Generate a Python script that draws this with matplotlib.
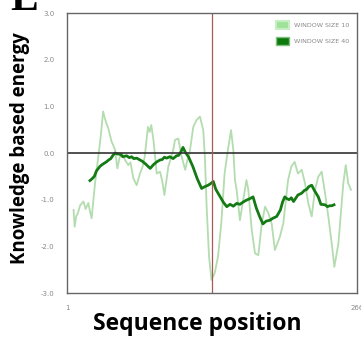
import matplotlib
matplotlib.use('Agg')
import matplotlib.pyplot as plt
from matplotlib.patches import Patch

# window size 10 (light green)
pos_w10 = [7, 8, 9.5, 11, 13, 16, 18, 19, 20.5, 22, 23.5, 26.6, 29.6, 32, 34, 35.5, 37, 38.7,
           41.8, 43, 45, 47, 49, 51, 54, 57, 59, 61.6, 64.7, 67.7, 70, 72, 75, 76.5, 78, 80,
           83, 86, 88, 90, 93.6, 96, 98, 99.7, 102.7, 105.8, 109, 111, 113, 116.4, 119.5,
           122.5, 125.5, 127, 128.6, 130.8, 133, 136, 139, 142, 145, 148, 150.9, 153, 154.5,
           156, 159, 162, 165, 166.7, 169.8, 172.8, 175.8, 179, 182, 185, 188, 191, 195.6,
           198.7, 203, 206, 209, 212, 215.5, 218.5, 221.5, 224.6, 227.6, 230.6, 233.7, 236.8,
           239.8, 242.9, 245.3, 249, 252, 253.5, 255.7, 258, 260.5]
val_w10 = [-1.22, -1.58, -1.35, -1.29, -1.12, -1.04, -1.20, -1.15, -1.07, -1.25, -1.40, -0.65,
           -0.08, 0.40, 0.89, 0.75, 0.64, 0.53, 0.24, 0.18, 0.06, -0.33, -0.10, 0.0, -0.15,
           -0.26, -0.20, -0.54, -0.69, -0.44, -0.30, -0.08, 0.56, 0.45, 0.60, 0.28, -0.44,
           -0.40, -0.60, -0.90, -0.29, -0.10, 0.06, 0.28, 0.31, -0.08, -0.36, -0.15, 0.0,
           0.56, 0.71, 0.78, 0.49, -0.08, -1.15, -2.22, -2.72, -2.57, -2.22, -1.50, -0.44,
           0.06, 0.49, 0.06, -0.58, -0.79, -1.44, -1.01, -0.58, -0.79, -1.65, -2.15, -2.19,
           -1.51, -1.15, -1.29, -1.51, -2.08, -1.79, -1.50, -0.58, -0.29, -0.19, -0.44, -0.36,
           -0.65, -1.08, -1.36, -0.79, -0.51, -0.40, -0.86, -1.36, -1.94, -2.44, -1.94, -1.08,
           -0.65, -0.26, -0.65, -0.79]

# window size 40 (dark green)
pos_w40 = [22, 24, 26, 28, 31, 33, 37, 39, 41, 43, 45, 47, 50, 52, 55.5, 58, 60, 62, 64.7,
           67, 70, 73, 77, 80, 83, 86, 88, 90, 92, 95, 98, 101, 103, 105, 107, 109, 112, 116,
           120, 124, 127, 130, 132, 134.7, 137, 141, 144, 147, 150, 153, 156, 159, 162, 165,
           168, 171, 174, 177, 180, 183, 186.5, 189, 192.6, 196, 198, 200, 202, 204, 206,
           208, 212, 215.5, 218, 220, 222, 224.6, 227, 230.6, 233, 236.8, 239, 241, 243, 245]
val_w40 = [-0.59, -0.55, -0.50, -0.38, -0.29, -0.25, -0.19, -0.15, -0.12, -0.05, 0.0, -0.02,
           -0.03, -0.08, -0.06, -0.10, -0.08, -0.12, -0.11, -0.14, -0.18, -0.24, -0.33, -0.25,
           -0.19, -0.15, -0.14, -0.09, -0.11, -0.08, -0.12, -0.06, -0.05, 0.02, 0.12, 0.02,
           -0.08, -0.29, -0.55, -0.76, -0.72, -0.69, -0.66, -0.61, -0.78, -0.94, -1.06,
           -1.15, -1.10, -1.14, -1.08, -1.10, -1.05, -1.01, -0.98, -0.94, -1.18, -1.36, -1.52,
           -1.46, -1.44, -1.40, -1.36, -1.22, -1.05, -0.94, -0.98, -1.00, -0.96, -1.04, -0.90,
           -0.86, -0.80, -0.78, -0.72, -0.69, -0.80, -0.94, -1.10, -1.11, -1.15, -1.13, -1.13,
           -1.11]

yticks = [-3, -2, -1, 0, 1, 2, 3]
ytick_labels = ['-3.0', '-2.0', '-1.0', '0.0', '1.0', '2.0', '3.0']
xticks = [1, 266]
xtick_labels = ['1', '266']
legend_labels = ['WINDOW SIZE 10', 'WINDOW SIZE 40']

light = '#b3dcaf'
dark = '#147a14'

W, H = 361, 342
fig = plt.figure(figsize=(W / 100, H / 100), dpi=100)
ax = fig.add_axes([67 / W, (H - 293) / H, 290 / W, 280 / H])

ax.plot(pos_w10, val_w10, color=light, lw=1.3)
ax.plot(pos_w40, val_w40, color=dark, lw=2.0)
ax.axhline(0, color='#333333', lw=1.2)
ax.axvline(133.5, color='#a85a5a', lw=0.9)

ax.set_xlim(1, 266)
ax.set_ylim(-3, 3)
ax.set_yticks(yticks)
ax.set_yticklabels(ytick_labels)
ax.set_xticks(xticks)
ax.set_xticklabels(xtick_labels)
ax.tick_params(length=0, labelsize=5, colors='#888888')
ax.tick_params(axis='y', pad=9)
ax.tick_params(axis='x', pad=9)
for s in ax.spines.values():
    s.set_color('#666666')
    s.set_linewidth(1.0)

handles = [Patch(facecolor='#9fe39a', edgecolor='#c8eec4', lw=1.5),
           Patch(facecolor='#0e7a0e', edgecolor='#7fbf7f', lw=1.0)]
leg = ax.legend(handles, legend_labels, loc='upper right', frameon=False, fontsize=4.6,
                handlelength=2.0, handleheight=1.6, labelspacing=1.3, borderaxespad=0.8,
                handletextpad=0.8)
for t in leg.get_texts():
    t.set_color('#888888')

fig.text(20 / W, 1 - 148 / H, 'Knowledge based energy', rotation=90, ha='center',
         va='center', fontsize=13.5, fontweight='bold', family='Open Sans')
fig.text(197 / W, 1 - 324 / H, 'Sequence position', ha='center', va='center',
         fontsize=16.5, fontweight='bold', family='Open Sans')
fig.text(10 / W, 1 - 10 / H, 'E', ha='left', va='baseline', fontsize=30,
         fontweight='bold', family='Liberation Serif')

fig.savefig('out.png', dpi=100)
